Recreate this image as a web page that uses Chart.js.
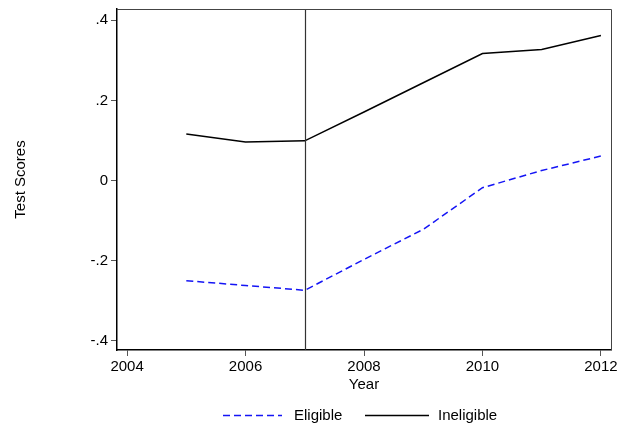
<!DOCTYPE html>
<html>
<head>
<meta charset="utf-8">
<script src="https://cdn.jsdelivr.net/npm/chart.js@4.4.1/dist/chart.umd.min.js"></script>
<style>
  html, body { margin: 0; padding: 0; background: #fff; }
  #wrap { width: 618px; height: 427px; }
</style>
</head>
<body>
<div id="wrap"><canvas id="c" width="618" height="427"></canvas></div>
<script>
// Survey years and mean test scores by eligibility group
const years = [2005, 2006, 2007, 2008, 2009, 2010, 2011, 2012];
const eligible = [-0.250, -0.262, -0.274, -0.197, -0.122, -0.018, 0.025, 0.061];
const ineligible = [0.116, 0.096, 0.099, 0.171, 0.244, 0.317, 0.327, 0.362];

// Axis ticks and labels
const xTicks = [2004, 2006, 2008, 2010, 2012];
const yTicks = [-0.4, -0.2, 0, 0.2, 0.4];
const yTickLabels = ['-.4', '-.2', '0', '.2', '.4'];

// Policy change year marked with a vertical reference line
const cutoffYear = 2007;

const FONT = '"Liberation Sans", Arial, Helvetica, sans-serif';

const toPoints = (vals) => years.map((y, i) => ({ x: y, y: vals[i] }));

// Keep the plot box fixed: ignore label overflow padding
const noOverflow = (s) => {
  s.paddingTop = 0; s.paddingBottom = 0; s.paddingLeft = 0; s.paddingRight = 0;
};

// Draws the plot frame, the reference line and the legend row
const decorations = {
  id: 'decorations',
  afterDatasetsDraw(chart) {
    const { ctx, chartArea: a, scales } = chart;
    ctx.save();
    // reference line
    const xv = Math.round(scales.x.getPixelForValue(cutoffYear)) + 0.5;
    ctx.strokeStyle = '#333';
    ctx.lineWidth = 1.2;
    ctx.setLineDash([]);
    ctx.beginPath();
    ctx.moveTo(xv, a.top);
    ctx.lineTo(xv, a.bottom);
    ctx.stroke();
    // top and right edges of the frame
    ctx.strokeStyle = '#444';
    ctx.lineWidth = 1;
    ctx.beginPath();
    ctx.moveTo(a.left, a.top + 0.5);
    ctx.lineTo(a.right + 0.5, a.top + 0.5);
    ctx.lineTo(a.right + 0.5, a.bottom);
    ctx.stroke();
    ctx.restore();
  },
  afterDraw(chart) {
    const { ctx } = chart;
    const items = [
      { ds: chart.data.datasets[0], x0: 223, x1: 282, tx: 294 },
      { ds: chart.data.datasets[1], x0: 365, x1: 429, tx: 438 }
    ];
    const y = 416;
    ctx.save();
    ctx.font = '15px ' + FONT;
    ctx.textBaseline = 'middle';
    ctx.fillStyle = '#000';
    items.forEach(it => {
      ctx.strokeStyle = it.ds.borderColor;
      ctx.lineWidth = it.ds.borderWidth;
      ctx.setLineDash(it.ds.borderDash || []);
      ctx.beginPath();
      ctx.moveTo(it.x0, y - 0.5);
      ctx.lineTo(it.x1, y - 0.5);
      ctx.stroke();
      ctx.setLineDash([]);
      ctx.fillText(it.ds.label, it.tx, y);
    });
    ctx.restore();
  }
};

new Chart(document.getElementById('c'), {
  type: 'line',
  data: {
    datasets: [
      {
        label: 'Eligible',
        data: toPoints(eligible),
        borderColor: '#1515f5',
        borderWidth: 1.5,
        borderDash: [7, 4],
        pointRadius: 0,
        tension: 0,
        fill: false
      },
      {
        label: 'Ineligible',
        data: toPoints(ineligible),
        borderColor: '#000',
        borderWidth: 1.5,
        pointRadius: 0,
        tension: 0,
        fill: false
      }
    ]
  },
  options: {
    responsive: false,
    animation: false,
    devicePixelRatio: 1,
    layout: { padding: { left: 5, right: 7, top: 9, bottom: 30 } },
    plugins: {
      legend: { display: false },
      tooltip: { enabled: false }
    },
    scales: {
      x: {
        type: 'linear',
        min: 2003.83,
        max: 2012.17,
        afterBuildTicks: (s) => { s.ticks = xTicks.map(v => ({ value: v })); },
        afterFit: (s) => { s.height = 47; noOverflow(s); },
        ticks: {
          autoSkip: false,
          maxRotation: 0,
          padding: 2,
          color: '#000',
          font: { family: FONT, size: 15 },
          callback: (v) => String(v)
        },
        grid: {
          drawOnChartArea: false,
          drawTicks: true,
          tickLength: 6,
          color: '#555',
          lineWidth: 1
        },
        border: { display: true, color: '#000', width: 1.5 },
        title: {
          display: true,
          text: 'Year',
          color: '#000',
          font: { family: FONT, size: 15 },
          padding: { top: 0, bottom: 3 }
        }
      },
      y: {
        type: 'linear',
        min: -0.423,
        max: 0.428,
        afterBuildTicks: (s) => { s.ticks = yTicks.map(v => ({ value: v })); },
        afterFit: (s) => { s.width = 112; noOverflow(s); },
        ticks: {
          autoSkip: false,
          padding: 3,
          color: '#000',
          font: { family: FONT, size: 15 },
          callback: (v) => {
            const i = yTicks.findIndex(t => Math.abs(t - v) < 1e-9);
            return i >= 0 ? yTickLabels[i] : '';
          }
        },
        grid: {
          drawOnChartArea: false,
          drawTicks: true,
          tickLength: 6,
          color: '#555',
          lineWidth: 1
        },
        border: { display: true, color: '#000', width: 1.5 },
        title: {
          display: true,
          text: 'Test Scores',
          color: '#000',
          font: { family: FONT, size: 15 },
          padding: { top: 7, bottom: 0 }
        }
      }
    }
  },
  plugins: [decorations]
});
</script>
</body>
</html>
